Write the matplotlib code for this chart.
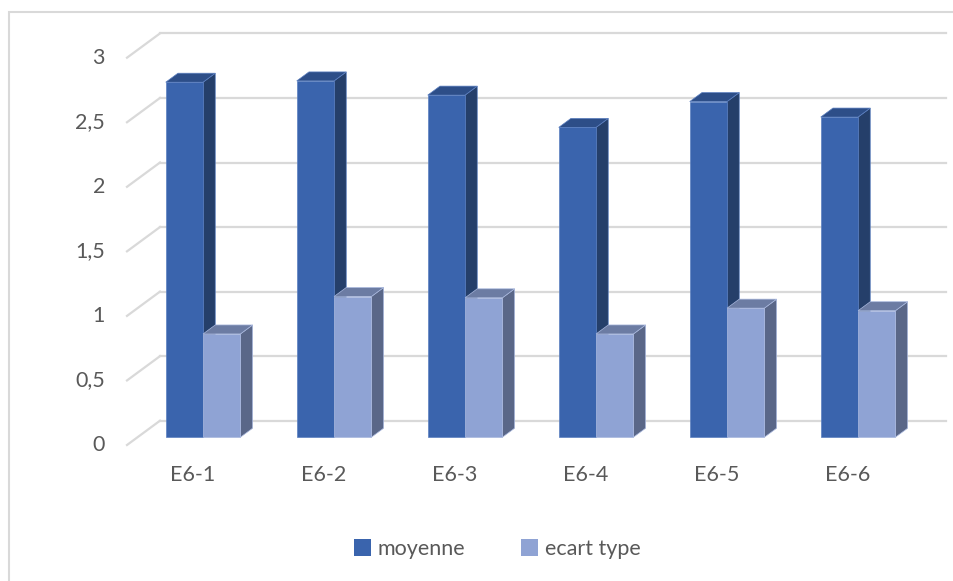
import matplotlib
matplotlib.use("Agg")
import matplotlib.pyplot as plt
import matplotlib.transforms as mtransforms
from matplotlib.patches import Polygon, Patch, Rectangle
import numpy as np

# Data
categories = ["E6-1", "E6-2", "E6-3", "E6-4", "E6-5", "E6-6"]
moyenne = [2.75, 2.76, 2.65, 2.40, 2.60, 2.48]
ecart_type = [0.80, 1.09, 1.08, 0.80, 1.00, 0.98]
series_names = ["moyenne", "ecart type"]
y_ticks = [0, 0.5, 1, 1.5, 2, 2.5, 3]
y_tick_labels = ["0", "0,5", "1", "1,5", "2", "2,5", "3"]

# Styles
face_colors = {
    "moyenne": ("#3A64AD", "#2D4E88", "#253F6A"),      # front, top, side
    "ecart type": ("#8FA3D4", "#6C7CA3", "#5A6788"),
}
edge_colors = {"moyenne": "#5B7FC0", "ecart type": "#A9B8DE"}
grid_color = "#D9D9D9"
text_color = "#595959"
FONT = ["Lato", "DejaVu Sans"]

W, H, DPI = 954, 581, 100
fig = plt.figure(figsize=(W / DPI, H / DPI), dpi=DPI)
fig.patch.set_facecolor("white")

# Front plane of the 3D box, in pixels
left_px, right_px = 127, 913
zero_px, top_px = 445, 57.7
ax = fig.add_axes([left_px / W, (H - zero_px) / H,
                   (right_px - left_px) / W, (zero_px - top_px) / H])
ax.set_xlim(-0.5, len(categories) - 0.5)
ax.set_ylim(0, 3)
ax.axis("off")

# Depth direction of the box (pixels: right, up)
DEPTH = np.array([33.0, 24.3])
bar_front, bar_back = 0.32, 0.69


def to_disp(pts, depth):
    d = ax.transData.transform(np.asarray(pts, dtype=float))
    return d + DEPTH * depth


ident = mtransforms.IdentityTransform()

# Back-wall gridlines with the diagonal on the left wall
for v in y_ticks:
    back = to_disp([[-0.5, v], [len(categories) - 0.5, v]], 1.0)
    diag = np.vstack([to_disp([[-0.5, v]], 0.0), to_disp([[-0.5, v]], 1.0)])
    for seg in (back, diag):
        ax.add_line(plt.Line2D(seg[:, 0], seg[:, 1], transform=ident,
                               color=grid_color, lw=1.6, zorder=1, clip_on=False))

# Y tick labels on the front plane
for v, lab in zip(y_ticks, y_tick_labels):
    ax.text(-0.5, v, lab, ha="right", va="center", fontsize=15.5,
            color=text_color, family=FONT,
            transform=ax.transData + mtransforms.ScaledTranslation(-22 / DPI, 0, fig.dpi_scale_trans))

# Bars
width = 0.285
x = np.arange(len(categories))
front_tr = ax.transData + mtransforms.ScaledTranslation(
    DEPTH[0] * bar_front / DPI, DEPTH[1] * bar_front / DPI, fig.dpi_scale_trans)

z = 2
for i in range(len(categories)):
    for name, vals, off in (("moyenne", moyenne, -width / 2),
                            ("ecart type", ecart_type, width / 2)):
        front_c, top_c, side_c = face_colors[name]
        h = vals[i]
        x0, x1 = x[i] + off - width / 2, x[i] + off + width / 2
        side = np.vstack([to_disp([[x1, 0], [x1, h]], bar_front),
                          to_disp([[x1, h], [x1, 0]], bar_back)])
        top = np.vstack([to_disp([[x0, h], [x1, h]], bar_front),
                         to_disp([[x1, h], [x0, h]], bar_back)])
        ax.add_patch(Polygon(side, closed=True, transform=ident, facecolor=side_c,
                             edgecolor=edge_colors[name], lw=0.5, zorder=z, clip_on=False))
        ax.add_patch(Polygon(top, closed=True, transform=ident, facecolor=top_c,
                             edgecolor=edge_colors[name], lw=0.5, zorder=z, clip_on=False))
        ax.bar(x[i] + off, h, width=width, color=front_c, transform=front_tr,
               edgecolor=edge_colors[name], lw=0.5, zorder=z + 0.5, clip_on=False)
        z += 1

# Category labels
for xi, lab in zip(x, categories):
    ax.text(xi, 0, lab, ha="center", va="center", fontsize=15.5, color=text_color,
            family=FONT,
            transform=ax.transData + mtransforms.ScaledTranslation(0, -30 / DPI, fig.dpi_scale_trans))

# Legend
handles = [Patch(facecolor=face_colors[n][0], edgecolor="none", label=n) for n in series_names]
leg = fig.legend(handles=handles, loc="center", bbox_to_anchor=(497 / W, (H - 549) / H),
                 ncol=2, frameon=False, handlelength=0.8, handleheight=0.8,
                 handletextpad=0.3, columnspacing=2.6,
                 prop={"family": FONT, "size": 15.5})
for t in leg.get_texts():
    t.set_color(text_color)

# Chart border
fig.patches.append(Rectangle((9 / W, -0.1), 1.5, (H - 12) / H + 0.1, transform=fig.transFigure,
                             fill=False, edgecolor=grid_color, lw=1.5))

fig.savefig("out.png", dpi=DPI, facecolor="white")
